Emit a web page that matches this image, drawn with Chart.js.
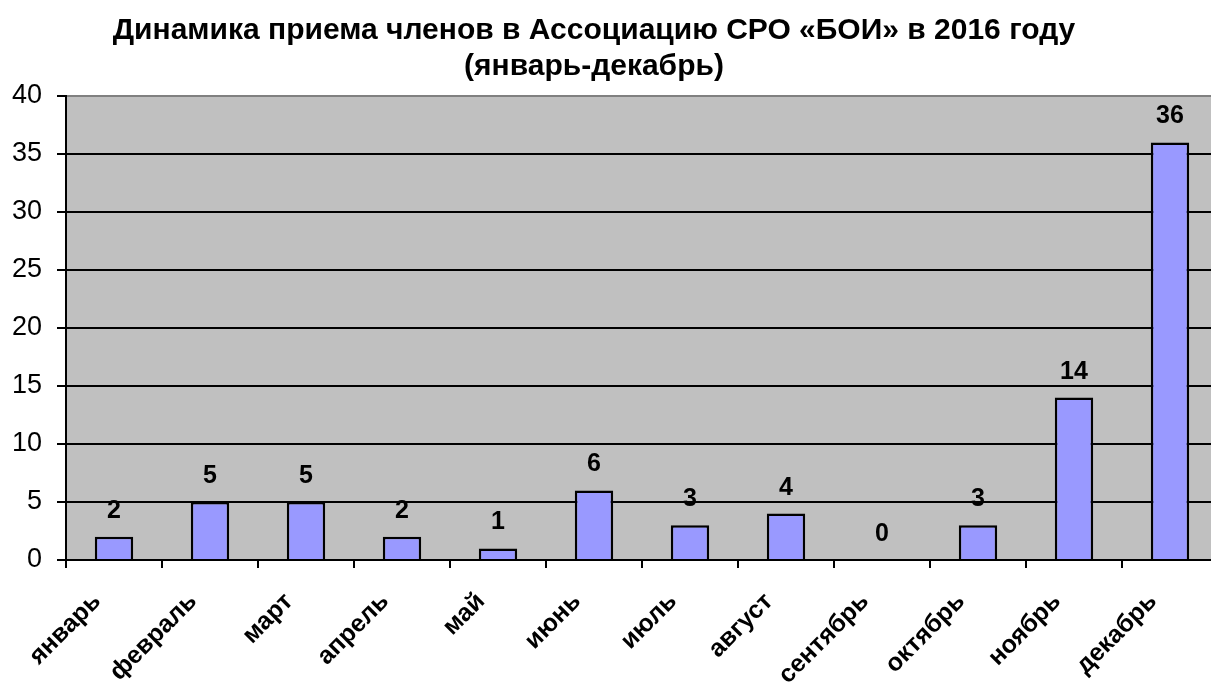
<!DOCTYPE html>
<html>
<head>
<meta charset="utf-8">
<script src="https://cdn.jsdelivr.net/npm/chart.js@4/dist/chart.umd.min.js"></script>
<style>
  html, body { margin: 0; padding: 0; background: #fff; overflow: hidden; }
  #wrap { width: 1218px; height: 683px; }
</style>
</head>
<body>
<div id="wrap"><canvas id="chart"></canvas></div>
<script>
const titleLines = ["Динамика приема членов в Ассоциацию СРО «БОИ» в 2016 году", "(январь-декабрь)"];
const months = ["январь", "февраль", "март", "апрель", "май", "июнь", "июль", "август", "сентябрь", "октябрь", "ноябрь", "декабрь"];
const members = [2, 5, 5, 2, 1, 6, 3, 4, 0, 3, 14, 36];

const FONT = "'Liberation Sans', Arial, sans-serif";

// grey plot background
const plotBg = {
  id: "plotBg",
  beforeDraw(chart) {
    const { ctx, chartArea: a } = chart;
    ctx.save();
    ctx.fillStyle = "#C0C0C0";
    ctx.fillRect(a.left, a.top, a.right - a.left, a.bottom - a.top);
    ctx.restore();
  },
};

// two-line title, drawn a bit left of the canvas centre like the original
const titleBlock = {
  id: "titleBlock",
  afterDraw(chart) {
    const ctx = chart.ctx;
    ctx.save();
    ctx.fillStyle = "#000";
    ctx.font = "bold 30px " + FONT;
    ctx.textAlign = "center";
    ctx.textBaseline = "alphabetic";
    titleLines.forEach((t, i) => ctx.fillText(t, 594, 39 + i * 36));
    ctx.restore();
  },
};

// value labels above bars
const valueLabels = {
  id: "valueLabels",
  afterDatasetsDraw(chart) {
    const ctx = chart.ctx;
    const meta = chart.getDatasetMeta(0);
    ctx.save();
    ctx.fillStyle = "#000";
    ctx.font = "bold 25px " + FONT;
    ctx.textAlign = "center";
    ctx.textBaseline = "alphabetic";
    meta.data.forEach((bar, i) => {
      ctx.fillText(String(members[i]), bar.x, bar.y - 19);
    });
    ctx.restore();
  },
};

new Chart(document.getElementById("chart").getContext("2d"), {
  type: "bar",
  data: {
    labels: months,
    datasets: [
      {
        data: members,
        backgroundColor: "#9999FF",
        borderColor: "#000",
        borderWidth: 2.5,
        barPercentage: 0.4,
        categoryPercentage: 1,
      },
    ],
  },
  options: {
    responsive: true,
    maintainAspectRatio: false,
    animation: false,
    layout: { padding: { top: 96, left: 0, right: 0, bottom: 0 } },
    plugins: {
      legend: { display: false },
      title: { display: false },
      tooltip: { enabled: false },
    },
    scales: {
      x: {
        afterFit(scale) { scale.height = 123; },
        grid: {
          offset: true,
          drawOnChartArea: false,
          drawTicks: true,
          tickLength: 8,
          color: "#000",
          lineWidth: 2,
        },
        border: { color: "#000", width: 2 },
        ticks: {
          color: "#000",
          font: { family: FONT, size: 25, weight: "bold" },
          minRotation: 45,
          maxRotation: 45,
          autoSkip: false,
          padding: 19,
          labelOffset: -17,
        },
      },
      y: {
        min: 0,
        max: 40,
        afterFit(scale) { scale.width = 66; },
        grid: {
          color: (c) => (c.tick && c.tick.value === 40 ? "#808080" : "#000"),
          tickColor: "#000",
          lineWidth: 2,
          tickLength: 9,
        },
        border: { color: "#000", width: 2 },
        ticks: {
          stepSize: 5,
          color: "#000",
          font: { family: FONT, size: 27 },
          padding: 15,
        },
      },
    },
  },
  plugins: [plotBg, titleBlock, valueLabels],
});
</script>
</body>
</html>
